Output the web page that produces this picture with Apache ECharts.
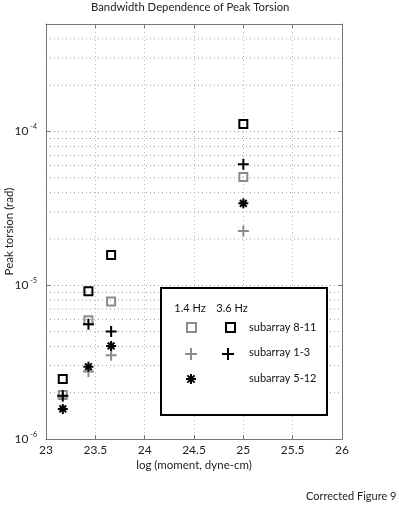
<!DOCTYPE html>
<html>
<head>
<meta charset="utf-8">
<style>
  html, body { margin: 0; padding: 0; background: #fff; }
  #chart { width: 399px; height: 508px; }
</style>
<script src="https://cdn.jsdelivr.net/npm/echarts@6/dist/echarts.min.js"></script>
</head>
<body>
<div id="chart"></div>
<script>
// log(moment) positions of the events
const moments = [23.17, 23.43, 23.66, 25.0]

// peak torsion (rad) per marker group
const sq14 = [1.93e-6, 5.93e-6, 7.84e-6, 5.05e-5]   // 1.4 Hz, subarray 8-11
const sq36 = [2.46e-6, 9.14e-6, 1.57e-5, 1.12e-4]   // 3.6 Hz, subarray 8-11
const plus14 = [1.88e-6, 2.75e-6, 3.51e-6, 2.25e-5] // 1.4 Hz, subarray 1-3
const plus36 = [1.91e-6, 5.58e-6, 5.0e-6, 6.13e-5]  // 3.6 Hz, subarray 1-3
const star = [1.57e-6, 2.95e-6, 4.03e-6, 3.41e-5]   // subarray 5-12

const xTicks = [23, 23.5, 24, 24.5, 25, 25.5, 26]
const yDecades = [1e-6, 1e-5, 1e-4]
const yMax = 5e-4

const FONT = 'Lato'
const GRAY = '#8c8c8c'
const PLUS = 'path://M5,0L5,10M0,5L10,5'
const STAR = 'path://M5,0L5,10M0,5L10,5M1.6,1.6L8.4,8.4M8.4,1.6L1.6,8.4'

// dotted minor lines at 2..9 x each decade
const minorLines = []
yDecades.forEach(d => {
  for (let m = 2; m <= 9; m++) {
    if (d * m < yMax * 0.999) minorLines.push(d * m)
  }
})

const pairs = ys => moments.map((x, i) => [x, ys[i]])

function mark(name, ys, symbol, size, color) {
  return {
    name,
    type: 'scatter',
    data: pairs(ys),
    symbol,
    symbolSize: size,
    itemStyle: { color: 'rgba(0,0,0,0)', borderColor: color, borderWidth: 2, opacity: 1 },
    emphasis: { disabled: true },
    z: 3
  }
}

const chart = echarts.init(document.getElementById('chart'))

const xMin = xTicks[0]
const xMax = xTicks[xTicks.length - 1]

const series = [
  {
    // minor horizontal grid of the log axis
    type: 'custom',
    silent: true,
    z: 1,
    data: minorLines,
    renderItem: (params, api) => {
      const v = api.value(0)
      const a = api.coord([xMin, v])
      const b = api.coord([xMax, v])
      return {
        type: 'line',
        shape: { x1: a[0], y1: a[1], x2: b[0], y2: b[1] },
        style: { stroke: '#999', lineWidth: 1, lineDash: [1, 3] }
      }
    },
    encode: { y: 0 }
  },
  mark('1.4 Hz subarray 8-11', sq14, 'rect', 8, GRAY),
  mark('1.4 Hz subarray 1-3', plus14, PLUS, 11, GRAY),
  mark('3.6 Hz subarray 8-11', sq36, 'rect', 8, '#000'),
  mark('3.6 Hz subarray 1-3', plus36, PLUS, 11, '#000'),
  mark('subarray 5-12', star, STAR, 10, '#000')
]

// legend drawn by hand (two marker columns)
function legendPlus(cx, cy, color) {
  return [
    { type: 'line', shape: { x1: cx - 6, y1: cy, x2: cx + 6, y2: cy }, style: { stroke: color, lineWidth: 2 } },
    { type: 'line', shape: { x1: cx, y1: cy - 6, x2: cx, y2: cy + 6 }, style: { stroke: color, lineWidth: 2 } }
  ]
}
function legendStar(cx, cy) {
  const r = 5, q = 3.6
  return [
    [-r, 0, r, 0], [0, -r, 0, r], [-q, -q, q, q], [q, -q, -q, q]
  ].map(s => ({ type: 'line', shape: { x1: cx + s[0], y1: cy + s[1], x2: cx + s[2], y2: cy + s[3] }, style: { stroke: '#000', lineWidth: 2 } }))
}
function legendText(x, y, text, align) {
  return { type: 'text', x, y, style: { text, fontFamily: FONT, fontSize: 11, fill: '#111', align: align || 'left', verticalAlign: 'middle' } }
}

const legendEls = [
  { type: 'rect', shape: { x: 161, y: 288, width: 166, height: 127 }, style: { fill: '#fff', stroke: '#000', lineWidth: 2 } },
  legendText(190, 308, '1.4 Hz', 'center'),
  legendText(232, 308, '3.6 Hz', 'center'),
  { type: 'rect', shape: { x: 187, y: 323, width: 9, height: 9 }, style: { fill: 'none', stroke: GRAY, lineWidth: 2 } },
  { type: 'rect', shape: { x: 226, y: 323, width: 9, height: 9 }, style: { fill: 'none', stroke: '#000', lineWidth: 2 } },
  legendText(249, 327, 'subarray 8-11'),
  ...legendPlus(191, 354, GRAY),
  ...legendPlus(228, 354, '#000'),
  legendText(249, 352, 'subarray 1-3'),
  ...legendStar(191, 379),
  legendText(249, 378, 'subarray 5-12')
].map(e => Object.assign({ z: 100 }, e))

chart.setOption({
  animation: false,
  backgroundColor: '#fff',
  textStyle: { fontFamily: FONT },
  title: [
    {
      text: 'Bandwidth Dependence of Peak Torsion',
      left: 91, top: 2, padding: 0,
      textStyle: { fontFamily: FONT, fontSize: 11.3, fontWeight: 'normal', color: '#222' }
    },
    {
      text: 'Corrected Figure 9',
      left: 306, top: 491, padding: 0,
      textStyle: { fontFamily: FONT, fontSize: 11, fontWeight: 'normal', color: '#222' }
    }
  ],
  grid: { left: 46, top: 24, right: 57, bottom: 69, outerBoundsMode: 'none', containLabel: false },
  xAxis: [
    {
      type: 'value',
      min: xMin,
      max: xMax,
      interval: 0.5,
      name: 'log (moment, dyne-cm)',
      nameLocation: 'middle',
      nameGap: 20,
      nameMoveOverlap: false,
      nameTextStyle: { fontFamily: FONT, fontSize: 11.5, color: '#222' },
      axisLine: { lineStyle: { color: '#777' } },
      axisTick: { inside: true, length: 4, lineStyle: { color: '#777' } },
      axisLabel: { margin: 5, fontSize: 12, color: '#222', fontFamily: FONT },
      splitLine: { show: true, lineStyle: { type: [1, 3], color: '#bbb' } }
    },
    {
      type: 'value',
      position: 'top',
      min: xMin,
      max: xMax,
      interval: 0.5,
      axisLine: { lineStyle: { color: '#777' } },
      axisTick: { inside: true, length: 4, lineStyle: { color: '#777' } },
      axisLabel: { show: false },
      splitLine: { show: false }
    }
  ],
  yAxis: [
    {
      type: 'log',
      logBase: 10,
      min: yDecades[0],
      max: yMax,
      name: 'Peak torsion (rad)',
      nameLocation: 'middle',
      nameGap: 31,
      nameMoveOverlap: false,
      nameTextStyle: { fontFamily: FONT, fontSize: 11.5, color: '#222' },
      axisLine: { show: true, lineStyle: { color: '#777' } },
      axisTick: { inside: true, length: 4, lineStyle: { color: '#777' } },
      axisLabel: {
        margin: 9,
        color: '#222',
        formatter: v => {
          const e = Math.log10(v)
          if (Math.abs(e - Math.round(e)) > 1e-6) return ''
          return '{b|10}{s|' + Math.round(e) + '}'
        },
        rich: {
          b: { fontSize: 12, fontFamily: FONT, color: '#222' },
          s: { fontSize: 7, fontFamily: FONT, color: '#222', padding: [0, 0, 9, 2] }
        }
      },
      splitLine: { show: true, lineStyle: { type: [1, 3], color: '#999' } }
    },
    {
      type: 'log',
      logBase: 10,
      min: yDecades[0],
      max: yMax,
      position: 'right',
      axisLine: { show: true, lineStyle: { color: '#777' } },
      axisTick: { inside: true, length: 4, lineStyle: { color: '#777' } },
      axisLabel: { show: false },
      splitLine: { show: false }
    }
  ],
  series,
  graphic: legendEls
})

window.addEventListener('resize', () => chart.resize())
</script>
</body>
</html>
